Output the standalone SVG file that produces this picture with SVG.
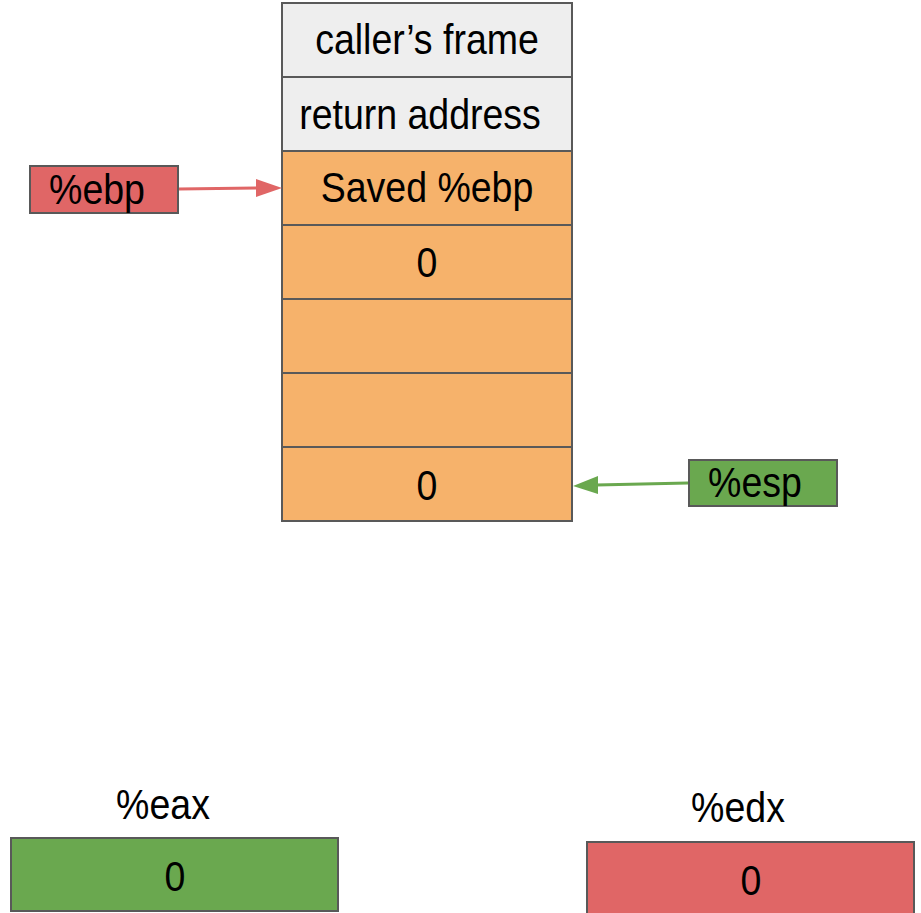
<svg xmlns="http://www.w3.org/2000/svg" width="921" height="913" viewBox="0 0 921 913">
<style>
text{font-family:"Liberation Sans",Arial,sans-serif;font-size:37.5px;fill:#000;text-anchor:middle}
.cell{stroke:#595959;stroke-width:2}
.gray{fill:#eeeeee}
.orange{fill:#f6b26b}
.red{fill:#e06666}
.green{fill:#6aa84f}
</style>
<g id="stack">
<g id="cell-caller"><rect class="cell gray" x="282" y="3" width="290" height="74"/><text transform="translate(427,54) scale(1,1.13)">caller’s frame</text></g>
<g id="cell-ret"><rect class="cell gray" x="282" y="77" width="290" height="74"/><text transform="translate(420,129) scale(1,1.13)">return address</text></g>
<g id="cell-saved"><rect class="cell orange" x="282" y="151" width="290" height="74"/><text transform="translate(427,202) scale(1,1.13)">Saved %ebp</text></g>
<g id="cell-0a"><rect class="cell orange" x="282" y="225" width="290" height="74"/><text transform="translate(427,277) scale(1,1.13)">0</text></g>
<g id="cell-e1"><rect class="cell orange" x="282" y="299" width="290" height="74"/></g>
<g id="cell-e2"><rect class="cell orange" x="282" y="373" width="290" height="74"/></g>
<g id="cell-0b"><rect class="cell orange" x="282" y="447" width="290" height="74"/><text transform="translate(427,500) scale(1,1.13)">0</text></g>
</g>
<g id="ebp"><rect class="cell red" x="30" y="166" width="148" height="47"/><text transform="translate(97,204) scale(1,1.13)">%ebp</text></g>
<g id="esp"><rect class="cell green" x="689" y="460" width="148" height="46"/><text transform="translate(755,497) scale(1,1.13)">%esp</text></g>
<g id="eax"><text transform="translate(163,819) scale(1,1.13)">%eax</text><rect class="cell green" x="11" y="838" width="327" height="73"/><text transform="translate(175,891) scale(1,1.13)">0</text></g>
<g id="edx"><text transform="translate(738,822) scale(1,1.13)">%edx</text><rect class="cell red" x="587" y="842" width="327" height="80"/><text transform="translate(751,895) scale(1,1.13)">0</text></g>
<g id="connectors">
<line x1="179" y1="189" x2="258" y2="188" stroke="#e06666" stroke-width="3"/>
<path d="M256,179 L282,188 L256,197 z" fill="#e06666"/>
<line x1="688" y1="483" x2="596" y2="485" stroke="#6aa84f" stroke-width="3"/>
<path d="M598,476 L573,486 L598,494 z" fill="#6aa84f"/>
</g>
</svg>
